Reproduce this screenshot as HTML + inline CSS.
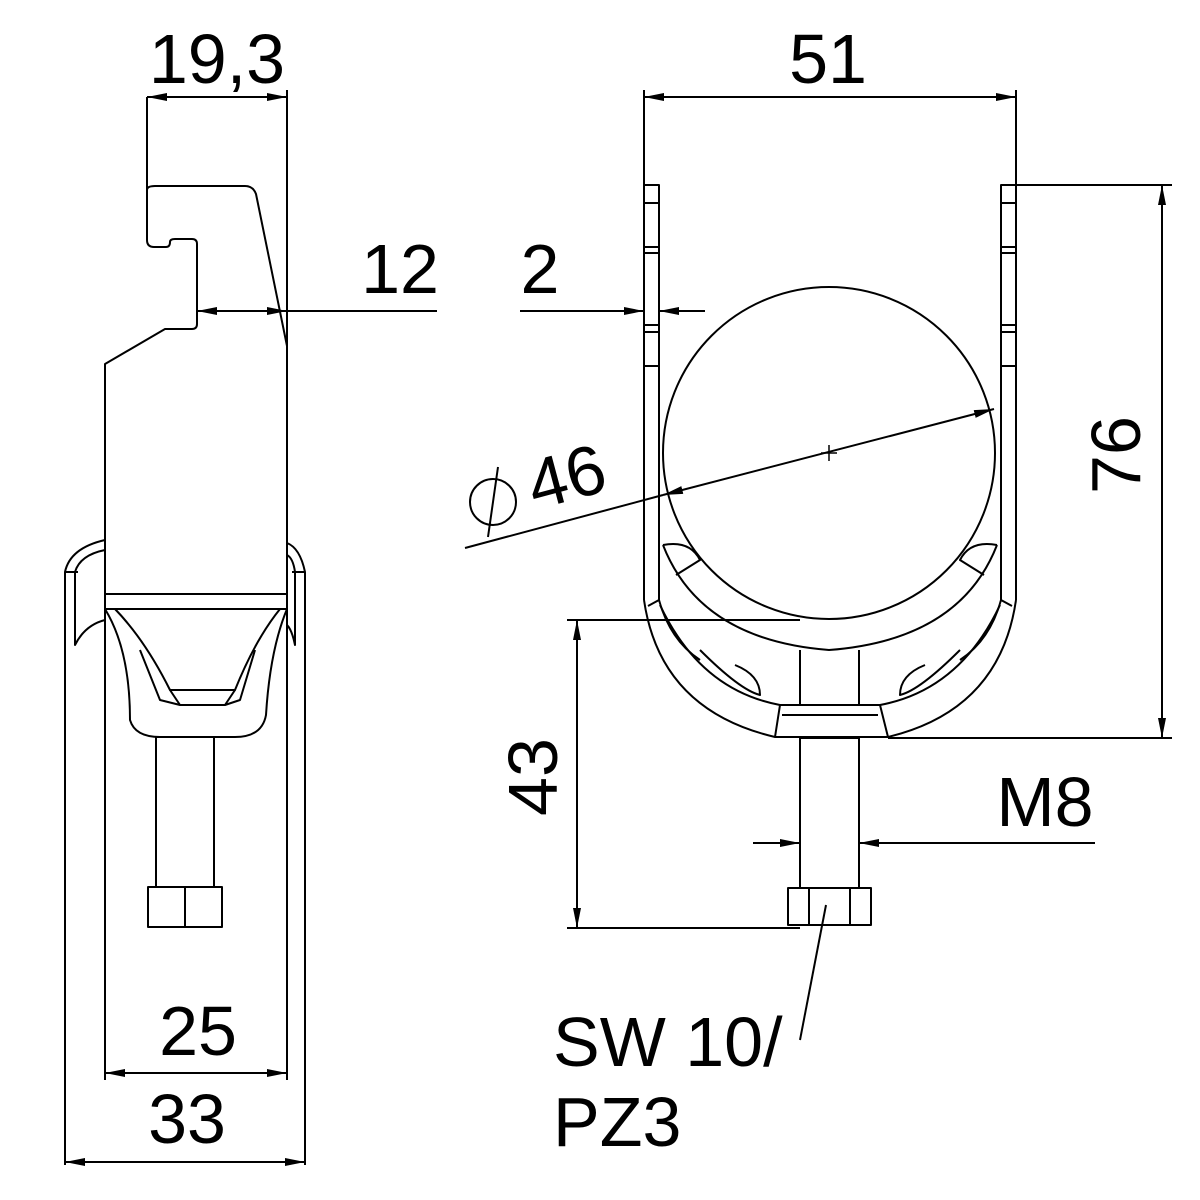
<!DOCTYPE html>
<html><head><style>html,body{margin:0;padding:0;background:#fff}svg{display:block}</style></head>
<body>
<svg width="1200" height="1200" viewBox="0 0 1200 1200" xmlns="http://www.w3.org/2000/svg">
<defs>
<marker id="a" viewBox="0 0 20 8" refX="20" refY="4" markerWidth="20" markerHeight="8" markerUnits="userSpaceOnUse" orient="auto-start-reverse"><path d="M0,0 L20,4 L0,8 z" fill="#000"/></marker>
</defs>
<g fill="none" stroke="#000" stroke-width="2" stroke-linejoin="round">
<path d="M147,97 V190 Q147,186 155,186 H245 Q253,186 256,194 L287,346"/>
<path d="M147,190 V240 Q147,247 154,247 H166 Q170,247 170,242 Q170,239 175,239 H192 Q197,239 197,244 V324 Q197,329 192,329 H165 L105,364 V1080"/>
<line x1="287" y1="90" x2="287" y2="1080"/>
<line x1="105" y1="594" x2="287" y2="594"/>
<line x1="105" y1="609" x2="287" y2="609"/>
<path d="M105,609 Q130,650 130,720 Q135,737 160,737 H235 Q262,737 266,715 Q270,650 287,609"/>
<path d="M115,609 Q145,640 170,690 H235 Q255,640 280,609"/>
<path d="M170,690 L180,705 H225 L235,690"/>
<path d="M140,650 L160,700 L180,705 M255,650 L240,700 L225,705"/>
<rect x="156" y="737" width="58" height="150"/>
<path d="M148,887 H222 V927 H148 Z M185,887 V927"/>
<path d="M65,1165 V572 Q70,548 105,540 M75,572 V645 Q85,625 105,620 M65,572 H78 M75,572 Q80,555 105,550"/>
<path d="M305,1165 V572 Q300,548 287,543 M295,572 V645 Q292,630 287,625 M305,572 H292 M295,572 Q293,558 287,555"/>
<line x1="147" y1="97" x2="287" y2="97" marker-start="url(#a)" marker-end="url(#a)"/>
<line x1="197" y1="311" x2="287" y2="311" marker-start="url(#a)" marker-end="url(#a)"/>
<line x1="287" y1="311" x2="437" y2="311"/>
<line x1="105" y1="1073" x2="287" y2="1073" marker-start="url(#a)" marker-end="url(#a)"/>
<line x1="65" y1="1162" x2="305" y2="1162" marker-start="url(#a)" marker-end="url(#a)"/>
<line x1="644" y1="90" x2="644" y2="600"/>
<line x1="1016" y1="90" x2="1016" y2="600"/>
<path d="M644,185 H659 V600 M1016,185 H1001 V600"/>
<path d="M644,203 H659 M644,247 H659 M644,253 H659 M644,325 H659 M644,332 H659 M644,366 H659"/>
<path d="M1001,203 H1016 M1001,247 H1016 M1001,253 H1016 M1001,325 H1016 M1001,332 H1016 M1001,366 H1016"/>
<circle cx="829" cy="453" r="166"/>
<path d="M821,453 H837 M829,445 V461" stroke-width="1.5"/>
<path d="M644,600 Q660,710 775,737 H888 Q1000,710 1016,600"/>
<path d="M659,600 Q670,640 700,660 M1001,600 Q990,640 960,660"/>
<path d="M648,606 L659,600 M1012,606 L1001,600"/>
<path d="M663,545 Q700,640 829,650 Q960,640 997,545"/>
<path d="M663,545 Q690,540 700,560 L676,575 M997,545 Q970,540 960,560 L984,575"/>
<path d="M660,605 Q700,690 780,705 H880 Q960,690 1000,605"/>
<path d="M700,650 Q740,690 760,695 Q760,675 735,665 M960,650 Q920,690 900,695 Q900,675 925,665"/>
<path d="M780,705 L775,737 M880,705 L888,737 M782,715 H878"/>
<path d="M800,650 V705 M859,650 V705"/>
<rect x="800" y="738" width="59" height="150"/>
<path d="M788,888 H871 V925 H788 Z M809,888 V925 M850,888 V925"/>
<line x1="644" y1="97" x2="1016" y2="97" marker-start="url(#a)" marker-end="url(#a)"/>
<line x1="520" y1="311" x2="644" y2="311" marker-end="url(#a)"/>
<line x1="705" y1="311" x2="659" y2="311" marker-end="url(#a)"/>
<line x1="1016" y1="185" x2="1172" y2="185"/>
<line x1="888" y1="738" x2="1172" y2="738"/>
<line x1="1162" y1="185" x2="1162" y2="738" marker-start="url(#a)" marker-end="url(#a)"/>
<line x1="567" y1="620" x2="800" y2="620"/>
<line x1="567" y1="928" x2="800" y2="928"/>
<line x1="577" y1="620" x2="577" y2="928" marker-start="url(#a)" marker-end="url(#a)"/>
<line x1="753" y1="843" x2="800" y2="843" marker-end="url(#a)"/>
<line x1="1095" y1="843" x2="859" y2="843" marker-end="url(#a)"/>
<line x1="465" y1="548" x2="663" y2="495"/>
<line x1="663" y1="495" x2="994" y2="409" marker-start="url(#a)" marker-end="url(#a)"/>
<circle cx="493" cy="502" r="23"/>
<line x1="498" y1="467" x2="488" y2="537"/>
<line x1="826" y1="905" x2="800" y2="1040"/>
</g>
<g font-family="Liberation Sans, sans-serif" font-size="70" fill="#000">
<text x="217" y="83" text-anchor="middle">19,3</text>
<text x="400" y="293" text-anchor="middle">12</text>
<text x="540" y="293" text-anchor="middle">2</text>
<text x="828" y="83" text-anchor="middle">51</text>
<text x="198" y="1055" text-anchor="middle">25</text>
<text x="187" y="1143" text-anchor="middle">33</text>
<text x="1045" y="826" text-anchor="middle">M8</text>
<text transform="translate(1140,455) rotate(-90)" text-anchor="middle">76</text>
<text transform="translate(557,777) rotate(-90)" text-anchor="middle">43</text>
<text transform="translate(535,510) rotate(-15)">46</text>
<text x="553" y="1066">SW 10/</text>
<text x="553" y="1146">PZ3</text>
</g>
</svg>
</body></html>
